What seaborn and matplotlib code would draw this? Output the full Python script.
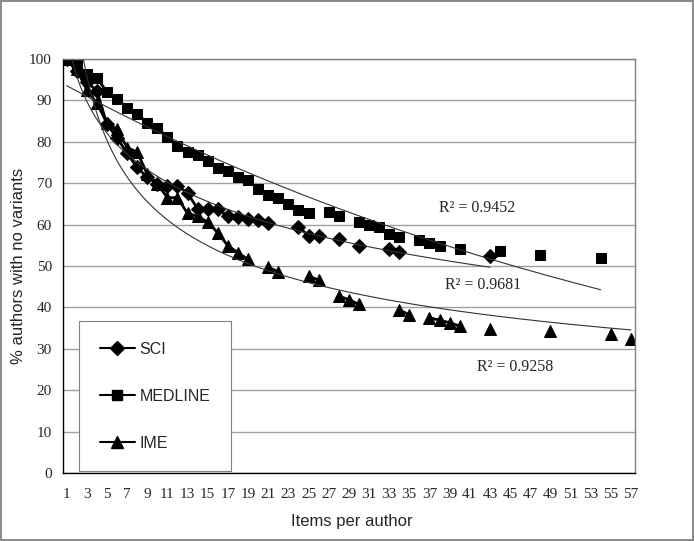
import numpy as np
import pandas as pd
import seaborn as sns
import matplotlib.pyplot as plt
from matplotlib.lines import Line2D
from matplotlib.ticker import MultipleLocator

# --- data (items per author -> % authors with no variants) ---
sci_x = list(range(1, 22)) + [24, 25, 26, 28, 30, 33, 34, 43]
sci_y = [100, 97, 94.5, 92.3, 84.2, 81, 77.2, 73.8, 71.4, 69.9, 69.4, 69.4, 67.6,
         63.8, 63.7, 63.7, 62.0, 61.9, 61.3, 61.2, 60.4, 59.5, 57.3, 57.3, 56.5,
         54.8, 54.1, 53.4, 52.5]

medline_x = list(range(1, 26)) + [27, 28, 30, 31, 32, 33, 34, 36, 37, 38, 40, 44, 48, 54]
medline_y = [100, 98.5, 96.4, 95.5, 92, 90.4, 88.2, 86.7, 84.6, 83.3, 81.2, 79, 77.5,
             76.7, 75.3, 73.7, 73, 71.6, 70.8, 68.6, 67.2, 66.3, 65, 63.6, 62.8, 63.0,
             62.1, 60.6, 59.9, 59.3, 57.7, 56.9, 56.3, 55.5, 54.8, 54.1, 53.5, 52.7, 52.0]

ime_x = list(range(1, 20)) + [21, 22, 25, 26, 28, 29, 30, 34, 35, 37, 38, 39, 40, 43, 49, 55, 57]
ime_y = [100, 97.5, 92.5, 89.3, 84.5, 83, 78.6, 77.5, 72.2, 69.8, 66.5, 66.5, 62.7, 62,
         60.6, 58, 54.9, 53.2, 51.6, 49.7, 48.6, 47.6, 46.6, 42.7, 41.9, 40.7, 39.4,
         38.2, 37.5, 36.9, 36.3, 35.5, 34.8, 34.4, 33.5, 32.3]

series_names = ["SCI", "MEDLINE", "IME"]
series_markers = ["D", "s", "^"]
series_msize = [7.5, 7.5, 8.5]
trend_kind = ["log", "exp", "power"]
r2_labels = ["R² = 0.9681", "R² = 0.9452", "R² = 0.9258"]
r2_pos = [(42.3, 45.4), (41.7, 64.0), (45.5, 25.6)]


def runs(x):
    # consecutive categories are joined, gaps are left open (like Excel)
    x = np.asarray(x)
    return np.cumsum(np.r_[0, np.diff(x) != 1])


def trend(x, y, kind):
    x = np.asarray(x, float)
    y = np.asarray(y, float)
    xs = np.linspace(x[0], x[-1], 300)
    if kind == "log":
        a, b = np.polyfit(np.log(x), y, 1)
        return xs, a * np.log(xs) + b
    if kind == "exp":
        a, b = np.polyfit(x, np.log(y), 1)
        return xs, np.exp(b + a * xs)
    a, b = np.polyfit(np.log(x), np.log(y), 1)
    return xs, np.exp(b) * xs ** a


sns.set_style("white")
fig = plt.figure(figsize=(6.94, 5.41), dpi=100, edgecolor="#8c8c8c", linewidth=1.5)
ax = fig.add_axes([0.0908, 0.1257, 0.8242, 0.7653])

all_x = [sci_x, medline_x, ime_x]
all_y = [sci_y, medline_y, ime_y]

for name, xs, ys, mk, ms in zip(series_names, all_x, all_y, series_markers, series_msize):
    df = pd.DataFrame({"x": xs, "y": ys, "run": runs(xs)})
    sns.lineplot(data=df, x="x", y="y", units="run", estimator=None, ax=ax,
                 color="black", linewidth=2, marker=mk, markersize=ms,
                 markeredgecolor="black", markerfacecolor="black", legend=False,
                 zorder=2)

for xs, ys, kind in zip(all_x, all_y, trend_kind):
    tx, ty = trend(xs, ys, kind)
    sns.lineplot(x=tx, y=ty, ax=ax, color="#333333", linewidth=0.8, zorder=3)

for lab, (px, py) in zip(r2_labels, r2_pos):
    ax.text(px, py, lab, ha="center", va="center", fontsize=11.5,
            family="Liberation Serif")

ax.set_xlim(0.64, 57.4)
ax.set_ylim(0, 100)
ax.set_xticks(range(1, 58, 2))
ax.xaxis.set_minor_locator(MultipleLocator(1))
ax.set_yticks(range(0, 101, 10))
ax.yaxis.set_minor_locator(MultipleLocator(2))
ax.grid(axis="y", color="#a0a0a0", linewidth=1)
ax.set_axisbelow(True)

ax.tick_params(axis="both", which="major", direction="out", length=4, width=0.8,
               color="black", labelsize=11, pad=4)
ax.tick_params(axis="both", which="minor", direction="out", length=2, width=0.6,
               color="black")
ax.tick_params(axis="x", which="major", pad=7)
for lbl in ax.get_xticklabels() + ax.get_yticklabels():
    lbl.set_family("Liberation Serif")

for side in ["left", "bottom"]:
    ax.spines[side].set_color("black")
    ax.spines[side].set_linewidth(1)
for side in ["top", "right"]:
    ax.spines[side].set_color("#808080")
    ax.spines[side].set_linewidth(1)

ax.set_xlabel("Items per author", fontsize=12, family="Liberation Sans")
ax.set_ylabel("% authors with no variants", fontsize=12, family="Liberation Sans")
ax.xaxis.set_label_coords(0.505, -0.1)
ax.yaxis.set_label_coords(-0.065, 0.5)

handles = [Line2D([], [], color="black", linewidth=1.5, marker=mk, markersize=ms - 0.5,
                  markeredgecolor="black", markerfacecolor="black")
           for mk, ms in zip(series_markers, series_msize)]
leg = ax.legend(handles, series_names, loc="lower left", bbox_to_anchor=(0.028, 0.004),
                prop={"family": "Liberation Sans", "size": 11.5}, frameon=True,
                fancybox=False, edgecolor="#808080", framealpha=1, borderpad=1.3,
                labelspacing=2.0, handlelength=2.2, handletextpad=0.3,
                borderaxespad=0)
leg.get_frame().set_linewidth(0.8)

fig.savefig("out.png", dpi=100)
plt.close(fig)
